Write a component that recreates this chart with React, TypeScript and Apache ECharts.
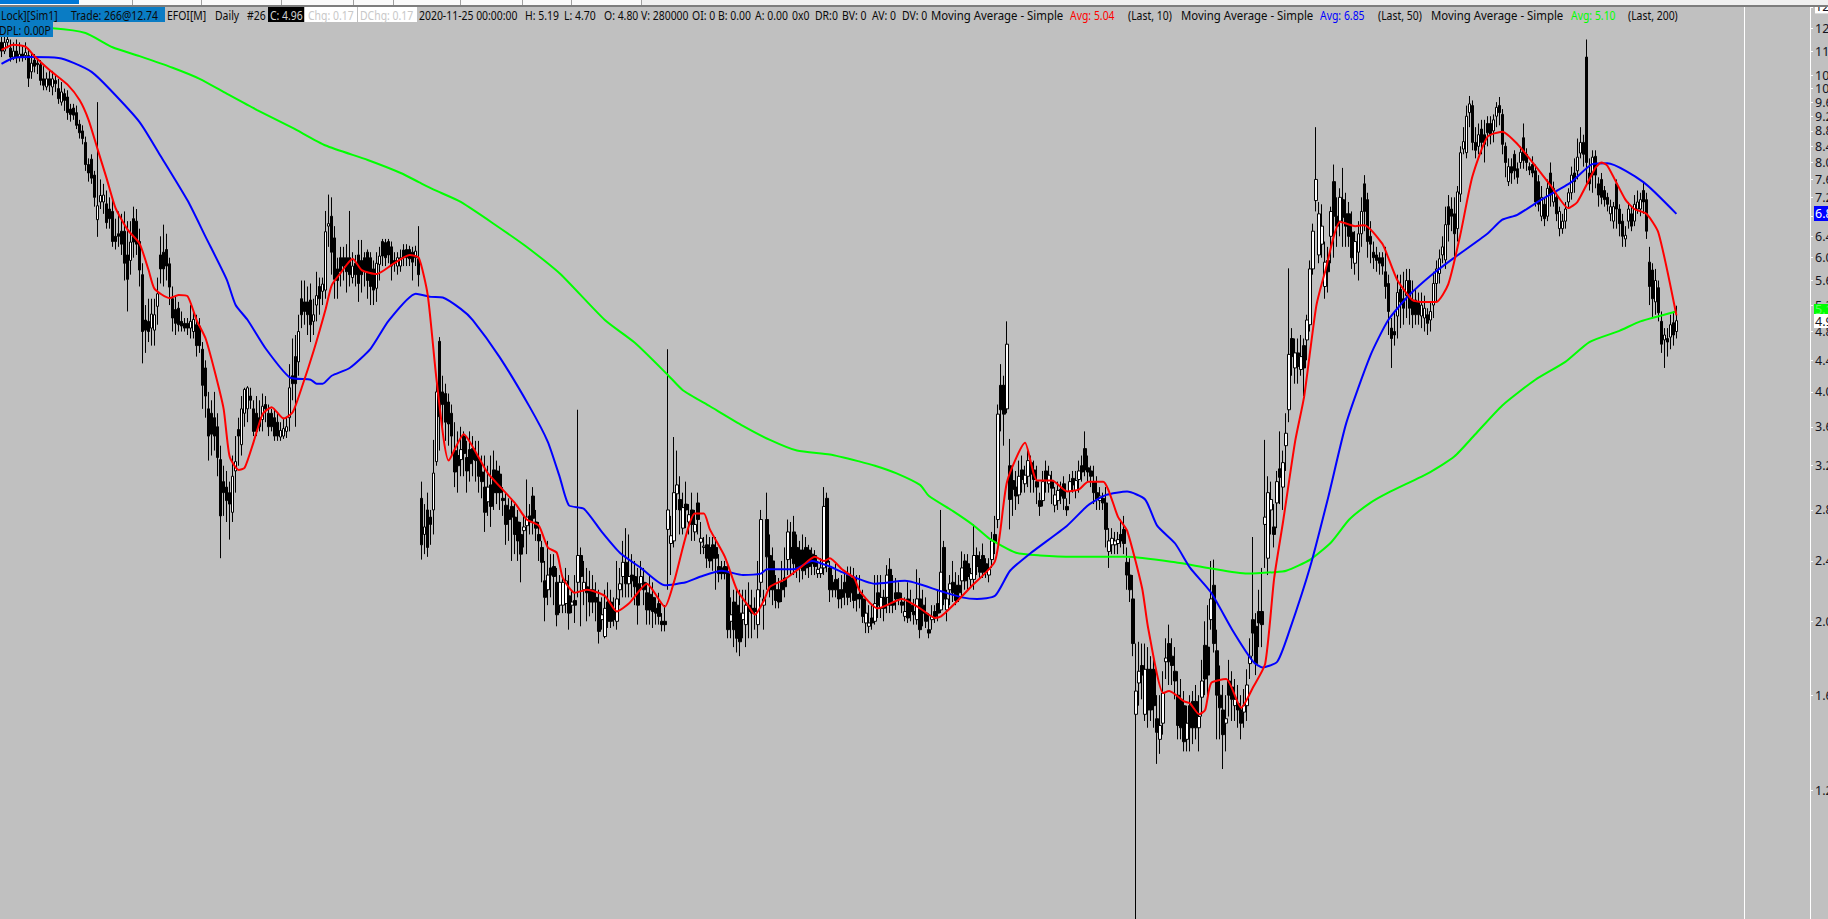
import React, { useEffect, useRef } from "react";
import * as echarts from "echarts";

// Candles: [open, close, low, high]
const candles: number[][] = [
[11.5,11.2,11.0,11.8],[11.2,11.5,11.1,11.9],[11.5,11.6,11.3,11.95],[11.3,11.0,10.85,11.6],[11.0,11.2,10.9,11.5],[11.2,11.0,10.8,11.6],[11.0,11.1,10.85,11.5],[11.1,11.0,10.85,11.4],[11.05,11.15,10.9,11.5],[11.05,10.32,10.05,11.3],
[10.52,10.8,10.3,11.1],[10.9,10.7,10.5,11.1],[10.8,10.75,10.45,10.95],[10.75,10.25,10.1,10.9],[10.3,10.1,9.95,10.7],[10.05,10.3,9.95,10.5],[10.3,10.1,9.9,10.55],[10.05,10.3,9.8,10.55],[10.25,10.15,9.9,10.4],[10.0,9.7,9.55,10.3],
[9.6,9.9,9.5,10.2],[9.85,9.65,9.35,10.0],[9.75,9.3,9.1,9.95],[9.4,9.25,9.05,9.55],[9.43,9.23,9.1,9.55],[9.3,8.95,8.85,9.5],[8.98,8.75,8.6,9.1],[8.8,8.6,8.45,8.95],[8.5,7.95,7.8,8.65],[7.95,7.75,7.55,8.1],
[8.08,7.63,7.5,8.2],[7.7,7.2,7.0,7.8],[6.73,7.02,6.39,9.6],[7.1,7.24,6.95,7.6],[7.1,7.25,6.85,7.5],[7.06,6.67,6.55,7.35],[6.95,6.75,6.55,7.2],[6.9,6.3,6.2,7.15],[6.4,6.3,6.15,6.75],[6.45,6.4,6.2,6.9],
[6.5,6.25,6.05,6.85],[6.5,5.9,5.6,6.9],[6.05,5.62,5.1,6.7],[5.95,6.29,5.7,6.7],[6.75,6.29,6.0,7.0],[6.7,6.25,6.05,6.95],[6.3,5.78,5.5,6.55],[5.7,4.8,4.36,5.9],[4.97,4.82,4.5,5.2],[4.95,4.8,4.65,5.3],
[4.85,5.06,4.6,5.3],[4.82,5.05,4.6,5.3],[5.18,5.38,4.9,5.65],[6.05,5.8,5.55,6.4],[6.1,5.8,5.5,6.63],[6.15,5.85,5.6,6.45],[5.89,5.49,5.2,6.0],[5.3,5.0,4.8,5.5],[5.13,4.92,4.75,5.35],[5.15,4.9,4.8,5.25],
[4.95,4.88,4.8,5.1],[4.92,4.85,4.8,5.0],[4.92,4.85,4.75,5.0],[4.85,4.95,4.7,5.2],[4.8,4.98,4.7,5.12],[4.9,4.6,4.45,5.05],[4.88,4.6,4.5,5.0],[4.55,4.08,3.8,4.65],[4.3,3.95,3.7,4.4],[3.8,3.5,3.25,4.0],
[3.75,3.52,3.3,3.9],[3.7,3.5,3.35,4.0],[3.6,3.28,3.1,3.75],[3.26,2.75,2.42,3.4],[3.05,2.95,2.75,3.2],[3.0,2.88,2.7,3.15],[2.95,2.85,2.56,3.05],[2.78,3.1,2.7,3.3],[3.15,3.24,2.95,3.5],[3.57,3.5,3.2,3.7],
[3.41,3.8,3.3,3.95],[3.75,4.03,3.6,4.05],[3.8,4.05,3.65,4.07],[3.95,3.9,3.8,4.05],[3.8,3.55,3.5,3.9],[3.75,3.55,3.5,3.95],[3.7,3.6,3.55,3.9],[3.68,3.83,3.55,3.98],[3.85,3.8,3.65,3.95],[3.75,3.6,3.5,3.85],
[3.75,3.6,3.55,3.8],[3.7,3.5,3.45,3.8],[3.65,3.5,3.45,3.75],[3.49,3.56,3.45,3.65],[3.5,3.58,3.47,3.7],[3.55,3.6,3.48,3.7],[3.7,4.05,3.55,4.35],[4.2,4.1,3.9,4.7],[4.45,4.1,3.6,4.75],[4.38,4.8,4.2,5.05],
[5.3,5.05,4.85,5.6],[5.25,5.1,4.9,5.6],[5.25,5.05,4.75,5.5],[5.28,4.9,4.65,5.55],[4.95,5.05,4.75,5.3],[5.2,5.35,4.95,5.75],[5.5,5.3,5.05,5.65],[5.42,5.54,5.2,5.65],[5.44,6.49,5.3,6.91],[6.6,6.65,6.2,7.26],
[6.8,6.1,5.7,7.2],[6.37,5.62,5.3,6.6],[5.8,5.6,5.3,6.0],[6.0,5.75,5.5,6.2],[6.0,5.85,5.6,6.2],[6.0,5.75,5.4,6.25],[6.0,5.7,5.5,6.91],[5.65,5.85,5.55,6.1],[5.9,5.7,5.5,6.05],[6.05,5.55,5.25,6.33],
[5.95,5.7,5.4,6.33],[6.0,5.75,5.5,6.1],[6.1,5.6,5.3,6.15],[6.0,5.5,5.2,6.1],[5.8,5.44,5.2,5.95],[5.47,5.9,5.25,6.1],[5.88,6.03,5.6,6.2],[6.3,6.03,5.85,6.35],[6.28,6.0,5.85,6.35],[6.3,6.05,5.9,6.35],
[6.2,5.85,5.6,6.3],[5.95,5.9,5.75,6.1],[5.85,6.0,5.7,6.1],[5.85,6.0,5.75,6.15],[6.14,6.0,5.85,6.25],[6.15,6.0,5.85,6.25],[6.15,5.98,5.85,6.22],[6.1,5.92,5.6,6.2],[6.0,6.12,5.85,6.22],[5.98,5.7,5.5,6.6],
[2.9,2.52,2.41,3.05],[2.6,2.66,2.45,2.85],[2.8,2.5,2.43,2.95],[2.74,2.68,2.52,2.8],[2.8,3.13,2.6,3.46],[3.24,4.0,3.2,4.1],[4.66,3.71,3.35,4.72],[4.0,3.85,3.6,4.2],[3.98,3.65,3.45,4.1],[3.88,3.63,3.4,3.98],
[3.75,3.5,3.3,3.85],[3.35,3.14,3.0,3.65],[3.3,3.2,2.95,3.55],[3.26,3.36,3.1,3.6],[3.5,3.32,3.1,3.55],[3.28,3.15,2.95,3.45],[3.36,3.22,3.05,3.55],[3.37,3.26,3.1,3.5],[3.3,3.25,3.05,3.45],[3.25,3.1,2.95,3.45],
[3.14,3.05,2.9,3.3],[3.0,2.78,2.62,3.3],[2.87,3.0,2.75,3.2],[3.02,2.83,2.66,3.3],[3.16,2.95,2.8,3.35],[3.15,2.95,2.85,3.25],[3.12,2.95,2.8,3.2],[2.9,2.88,2.75,3.0],[2.84,2.68,2.52,2.95],[2.8,2.72,2.55,2.9],
[2.83,2.74,2.4,2.9],[2.74,2.6,2.45,2.85],[2.7,2.55,2.4,2.8],[2.6,2.45,2.25,2.7],[2.63,2.66,2.5,2.75],[2.67,2.74,2.45,3.07],[2.75,2.7,2.6,2.85],[2.92,2.73,2.6,3.0],[2.7,2.65,2.55,2.8],[2.6,2.55,2.4,2.7],
[2.5,2.39,2.25,2.55],[2.26,2.15,2.0,2.4],[2.2,2.3,2.1,2.55],[2.35,2.3,2.15,2.45],[2.36,2.29,2.1,2.45],[2.25,2.04,1.97,2.35],[2.1,2.25,2.05,2.3],[2.1,2.25,2.05,2.3],[2.11,2.26,2.05,2.35],[2.16,2.05,1.95,2.3],
[2.1,2.12,2.05,2.2],[2.13,2.1,1.99,2.3],[2.25,2.44,2.15,3.79],[2.44,2.29,1.97,2.5],[2.2,2.25,2.1,2.4],[2.22,2.18,2.0,2.35],[2.2,2.12,2.03,2.33],[2.2,2.12,2.05,2.3],[2.15,2.12,2.0,2.25],[2.12,1.94,1.87,2.2],
[2.01,2.04,1.95,2.15],[1.91,2.08,1.9,2.2],[2.12,2.0,1.96,2.25],[2.12,2.0,1.96,2.2],[2.06,2.01,1.97,2.15],[2.0,2.14,1.95,2.4],[2.2,2.24,2.1,2.35],[2.29,2.39,2.15,2.55],[2.39,2.24,2.15,2.65],[2.24,2.29,2.15,2.6],
[2.3,2.26,2.15,2.45],[2.29,2.22,2.1,2.4],[2.24,2.1,1.98,2.35],[2.24,2.29,2.2,2.4],[2.25,2.2,2.1,2.35],[2.18,2.07,1.98,2.25],[2.17,2.07,1.98,2.3],[2.15,2.06,1.96,2.25],[2.08,2.05,1.98,2.15],[2.11,2.03,1.98,2.18],
[2.0,1.98,1.94,2.05],[2.0,1.98,1.94,2.1],[2.64,2.8,2.2,4.55],[2.53,2.59,2.3,2.75],[2.55,2.95,2.5,3.49],[2.94,3.02,2.8,3.35],[2.89,2.8,2.6,3.1],[2.65,2.82,2.6,2.95],[2.85,2.8,2.65,3.05],[2.7,2.76,2.6,2.85],
[2.8,2.68,2.55,2.95],[2.62,2.68,2.55,2.8],[2.86,2.72,2.6,2.95],[2.54,2.57,2.45,2.7],[2.5,2.51,2.45,2.58],[2.52,2.42,2.35,2.6],[2.5,2.4,2.35,2.58],[2.52,2.42,2.33,2.58],[2.5,2.42,2.2,2.58],[2.36,2.31,2.25,2.45],
[2.35,2.31,2.27,2.4],[2.36,2.31,2.27,2.4],[2.31,1.95,1.9,2.38],[2.0,2.04,1.9,2.15],[2.12,1.95,1.85,2.2],[2.1,1.9,1.82,2.2],[2.05,1.88,1.8,2.2],[2.01,2.05,1.9,2.2],[1.98,2.1,1.85,2.2],[2.1,2.06,1.9,2.25],
[2.08,2.05,1.9,2.2],[2.08,2.06,1.95,2.15],[1.98,2.2,1.9,2.4],[2.25,2.72,2.15,2.8],[2.1,2.14,1.95,2.2],[2.72,2.43,2.2,2.95],[2.44,2.2,2.15,2.6],[2.4,2.2,2.1,2.5],[2.2,2.13,2.08,2.3],[2.2,2.12,2.08,2.28],
[2.25,2.2,2.12,2.4],[2.28,2.22,2.15,2.5],[2.41,2.62,2.3,2.72],[2.5,2.42,2.3,2.7],[2.62,2.38,2.3,2.75],[2.5,2.34,2.28,2.6],[2.48,2.36,2.25,2.55],[2.48,2.33,2.27,2.6],[2.5,2.35,2.3,2.58],[2.48,2.36,2.28,2.52],
[2.45,2.38,2.3,2.5],[2.44,2.36,2.3,2.48],[2.31,2.34,2.28,2.4],[2.31,2.35,2.28,2.42],[2.35,2.83,2.3,3.0],[2.9,2.39,2.32,2.95],[2.35,2.2,2.12,2.4],[2.25,2.2,2.15,2.3],[2.27,2.2,2.15,2.38],[2.2,2.14,2.08,2.28],
[2.2,2.15,2.08,2.3],[2.25,2.18,2.1,2.32],[2.3,2.15,2.1,2.36],[2.28,2.18,2.12,2.36],[2.28,2.13,2.08,2.35],[2.17,2.14,2.06,2.3],[2.17,2.14,2.08,2.3],[2.14,2.03,1.99,2.2],[1.99,2.05,1.93,2.15],[1.97,1.99,1.93,2.1],
[2.02,1.99,1.95,2.1],[2.0,2.11,1.98,2.3],[2.18,2.1,2.02,2.3],[2.08,2.15,2.02,2.3],[2.15,2.08,2.0,2.2],[2.15,2.3,2.05,2.37],[2.34,2.1,2.05,2.42],[2.12,2.1,2.05,2.3],[2.18,2.14,2.07,2.28],[2.18,2.14,2.1,2.25],
[2.12,2.1,2.05,2.18],[2.03,2.06,2.0,2.15],[2.14,2.02,1.99,2.25],[2.1,2.06,2.0,2.2],[2.06,2.04,1.98,2.14],[2.01,2.14,1.98,2.34],[2.14,1.95,1.9,2.28],[2.1,2.05,1.97,2.2],[2.05,2.0,1.96,2.15],[1.95,1.93,1.9,2.05],
[2.01,2.03,1.95,2.1],[2.06,2.03,1.99,2.1],[2.11,2.05,2.0,2.2],[2.07,2.32,2.05,2.8],[2.5,2.14,2.1,2.55],[2.07,2.14,2.0,2.2],[2.2,2.24,2.1,2.3],[2.25,2.18,2.12,2.4],[2.23,2.13,2.1,2.32],[2.23,2.18,2.12,2.3],
[2.26,2.35,2.15,2.47],[2.4,2.26,2.2,2.45],[2.38,2.29,2.2,2.45],[2.27,2.31,2.22,2.35],[2.27,2.44,2.2,2.68],[2.44,2.36,2.3,2.5],[2.41,2.32,2.28,2.47],[2.44,2.32,2.28,2.53],[2.38,2.32,2.28,2.42],[2.3,2.34,2.25,2.42],
[2.41,2.55,2.35,2.62],[2.6,2.54,2.45,2.75],[2.72,3.74,2.65,3.85],[4.08,3.79,3.55,4.35],[4.08,3.74,3.4,4.2],[3.8,4.62,3.75,4.95],[3.2,2.89,2.64,3.47],[3.06,2.98,2.75,3.2],[3.0,2.92,2.8,3.15],[2.93,3.1,2.85,3.25],
[3.16,3.07,2.95,3.3],[3.03,3.11,2.95,3.2],[3.1,3.25,3.0,3.35],[3.23,3.12,2.95,3.3],[3.16,3.07,2.95,3.25],[3.05,3.0,2.85,3.2],[2.88,2.83,2.75,2.95],[2.88,3.05,2.83,3.15],[3.15,3.07,2.95,3.25],[3.03,3.11,2.95,3.2],
[3.05,2.99,2.85,3.15],[2.84,2.93,2.78,3.0],[2.88,2.97,2.8,3.05],[2.98,2.92,2.85,3.05],[3.03,2.9,2.8,3.1],[2.83,2.8,2.75,2.9],[2.96,3.05,2.85,3.12],[3.08,3.02,2.95,3.15],[2.97,3.06,2.9,3.15],[3.07,3.15,2.95,3.25],
[3.2,3.14,3.05,3.3],[3.37,3.16,3.1,3.55],[3.18,3.14,3.05,3.3],[3.15,3.1,3.0,3.2],[3.05,2.95,2.85,3.2],[2.95,2.89,2.8,3.1],[2.88,2.92,2.8,3.0],[2.9,2.86,2.8,2.95],[2.86,2.64,2.5,3.0],[2.47,2.55,2.35,2.65],
[2.52,2.57,2.45,2.65],[2.52,2.55,2.45,2.62],[2.53,2.56,2.45,2.62],[2.6,2.55,2.5,2.72],[2.64,2.53,2.45,2.75],[2.39,2.3,2.2,2.5],[2.3,2.2,2.12,2.42],[2.14,1.87,1.8,2.3],[1.51,1.62,0.81,1.87],[1.66,1.72,1.55,1.88],
[1.75,1.7,1.58,1.87],[1.51,1.73,1.48,1.87],[1.73,1.53,1.45,1.85],[1.73,1.53,1.48,1.8],[1.73,1.55,1.45,1.78],[1.49,1.43,1.3,1.6],[1.4,1.46,1.34,1.6],[1.47,1.61,1.42,1.72],[1.77,1.79,1.68,1.9],[1.87,1.77,1.65,1.98],
[1.8,1.75,1.65,1.9],[1.72,1.67,1.58,1.85],[1.6,1.46,1.4,1.72],[1.58,1.45,1.4,1.68],[1.55,1.39,1.35,1.62],[1.4,1.47,1.35,1.55],[1.55,1.45,1.35,1.6],[1.57,1.45,1.38,1.62],[1.57,1.45,1.4,1.65],[1.45,1.5,1.35,1.6],
[1.59,1.67,1.5,1.78],[1.86,1.68,1.6,2.0],[1.85,1.7,1.6,2.1],[2.01,2.14,1.95,2.4],[2.23,1.87,1.82,2.41],[1.83,1.6,1.4,1.95],[1.6,1.54,1.4,1.75],[1.53,1.42,1.28,1.65],[1.47,1.49,1.35,1.6],[1.67,1.6,1.5,1.78],
[1.64,1.58,1.48,1.72],[1.55,1.58,1.48,1.68],[1.56,1.53,1.45,1.65],[1.53,1.47,1.4,1.6],[1.52,1.55,1.45,1.63],[1.55,1.65,1.48,1.73],[1.76,1.8,1.68,1.9],[2.01,1.93,1.8,2.58],[1.97,1.76,1.7,2.05],[2.06,1.99,1.85,2.2],
[2.06,1.98,1.85,2.35],[2.68,2.74,2.35,3.46],[2.42,2.95,2.3,3.1],[2.8,2.89,2.6,3.05],[2.66,2.6,2.5,2.85],[2.86,3.05,2.65,3.15],[3.17,3.09,2.85,3.55],[3.0,3.23,2.8,3.35],[3.4,3.53,3.15,3.75],[3.79,4.48,3.65,5.81],
[4.7,4.45,4.2,4.85],[4.3,4.5,4.1,4.7],[4.5,4.32,4.1,4.7],[4.28,4.45,4.2,4.75],[4.6,4.3,3.95,4.7],[4.68,4.97,4.4,5.05],[4.9,5.8,4.8,5.95],[5.8,6.5,5.7,6.65],[7.13,7.6,6.9,8.9],[6.05,6.85,5.9,7.1],
[6.25,6.6,6.0,7.05],[5.5,5.92,5.3,6.3],[5.95,5.75,5.4,6.2],[6.4,6.9,5.9,7.0],[7.55,6.8,6.0,7.95],[6.8,6.6,6.2,7.2],[6.7,7.2,6.4,7.4],[7.15,6.78,6.2,7.87],[6.85,6.6,6.2,7.3],[6.85,6.4,6.2,7.1],
[6.48,6.0,5.8,6.9],[5.9,6.3,5.7,6.5],[6.1,6.45,5.6,6.7],[6.45,6.9,6.2,7.2],[7.5,6.9,6.5,7.7],[7.15,6.3,6.0,7.3],[6.4,6.25,5.9,6.7],[6.1,6.0,5.8,6.3],[6.05,5.95,5.75,6.2],[6.0,5.9,5.7,6.1],
[6.0,5.85,5.7,6.1],[5.75,5.5,5.3,6.2],[5.55,5.1,4.75,5.7],[4.85,4.7,4.3,5.0],[4.8,4.75,4.6,5.1],[5.03,5.4,4.7,5.7],[5.45,5.25,4.85,5.7],[5.3,5.15,4.9,5.75],[5.35,5.6,5.0,5.8],[5.6,5.15,4.9,5.8],
[5.28,5.05,4.85,5.6],[5.28,5.05,4.9,5.45],[5.25,5.05,4.9,5.4],[5.03,5.2,4.85,5.4],[5.0,5.15,4.8,5.35],[5.05,4.92,4.75,5.15],[4.97,5.1,4.8,5.25],[5.2,5.55,5.0,5.75],[5.55,5.8,5.25,5.95],[5.72,5.98,5.55,6.15],
[6.05,6.2,5.9,6.4],[5.96,6.63,5.8,7.0],[7.0,6.63,6.3,7.25],[6.95,6.8,6.5,7.2],[6.85,6.45,6.0,7.2],[6.55,7.32,6.3,7.45],[7.27,8.24,7.1,8.4],[8.33,8.52,8.2,8.9],[8.24,9.2,8.1,9.5],[9.3,9.55,8.9,9.78],
[9.5,8.5,8.3,9.65],[8.5,8.3,8.1,8.9],[8.4,8.7,8.2,9.0],[8.85,8.5,8.2,9.1],[8.7,8.45,8.0,9.1],[9.0,8.75,8.4,9.2],[9.0,8.7,8.45,9.2],[8.8,9.1,8.5,9.25],[9.2,9.45,8.9,9.6],[9.5,9.3,8.95,9.75],
[9.25,8.45,8.2,9.4],[8.4,8.0,7.65,8.5],[7.55,7.9,7.45,8.1],[7.9,7.75,7.5,8.1],[8.2,7.8,7.6,8.3],[7.85,7.65,7.5,8.0],[8.0,8.25,7.85,8.4],[8.62,8.05,7.85,9.0],[8.2,8.0,7.8,8.35],[7.9,7.82,7.7,8.0],
[7.95,7.75,7.65,8.15],[7.8,7.1,7.0,7.95],[7.55,7.05,6.9,7.7],[6.8,7.2,6.7,7.45],[7.05,6.75,6.6,7.2],[6.8,7.4,6.7,7.6],[7.75,7.25,7.0,8.0],[7.1,7.4,7.0,7.55],[7.2,6.85,6.7,7.3],[6.55,6.9,6.4,7.0],
[6.55,6.7,6.45,6.85],[6.7,6.95,6.55,7.1],[7.1,7.3,6.95,7.4],[7.3,7.7,7.15,7.9],[7.75,7.55,7.3,8.1],[7.8,8.13,7.6,8.6],[8.23,8.5,8.1,8.9],[8.5,8.2,7.9,8.7],[11.0,8.0,7.5,11.6],[7.75,7.5,7.35,8.1],
[7.7,8.13,7.3,8.3],[8.15,7.7,7.4,8.3],[7.5,7.25,7.0,7.65],[7.6,7.2,7.05,7.75],[7.35,7.15,7.0,7.45],[7.2,7.05,6.9,7.3],[6.85,7.0,6.7,7.15],[6.7,7.0,6.55,7.1],[7.5,6.95,6.55,7.6],[6.95,6.65,6.4,7.05],
[6.7,6.4,6.2,6.85],[6.35,6.42,6.2,6.6],[6.7,6.95,6.55,7.1],[6.85,6.6,6.5,7.0],[6.7,7.05,6.6,7.25],[6.95,7.1,6.85,7.35],[6.95,7.15,6.8,7.3],[7.35,7.1,6.85,7.55],[7.15,6.5,6.35,7.3],
[5.92,5.5,5.2,6.2],[5.78,5.3,5.0,5.9],[5.25,5.6,5.05,5.8],[5.48,5.08,4.95,5.6],[4.95,4.62,4.5,5.1],[4.68,4.75,4.3,4.85],[4.7,4.65,4.45,4.85],[4.72,4.9,4.55,5.05],[4.93,4.75,4.6,5.1],[4.8,4.96,4.7,5.19],
];

// Moving averages, read at [bar index, price]
const ma10: number[][] = [[0,11.24],[4,11.42],[8,11.35],[11,11.03],[16,10.58],[22,10.12],[26,9.66],[29,9.1],[32,8.33],[35,7.63],[38,6.97],[42,6.53],[46,6.26],[49,5.78],[51,5.46],[56,5.31],[59,5.36],[62,5.34],[65,4.97],[68,4.7],[71,4.26],[74,3.8],[76,3.29],[79,3.16],[81,3.18],[84,3.44],[87,3.74],[90,3.82],[94,3.69],[97,3.76],[100,4.05],[104,4.53],[108,5.14],[110,5.52],[113,5.73],[117,5.98],[120,5.78],[125,5.71],[130,5.87],[136,6.05],[139,6.0],[142,5.36],[145,4.13],[149,3.25],[154,3.52],[159,3.28],[162,3.13],[171,2.86],[175,2.72],[179,2.67],[182,2.5],[185,2.46],[187,2.28],[191,2.18],[195,2.2],[201,2.16],[205,2.06],[209,2.11],[215,2.24],[221,2.09],[224,2.25],[231,2.77],[234,2.77],[236,2.64],[241,2.43],[245,2.2],[249,2.09],[251,2.04],[254,2.13],[256,2.22],[261,2.27],[266,2.35],[271,2.43],[274,2.4],[276,2.42],[280,2.34],[284,2.28],[286,2.19],[292,2.08],[300,2.14],[306,2.08],[311,2.02],[313,2.03],[316,2.08],[323,2.22],[331,2.4],[335,3.05],[341,3.43],[345,3.06],[350,3.06],[355,2.96],[359,2.98],[362,3.05],[367,3.05],[372,2.74],[375,2.63],[380,2.21],[382,1.96],[387,1.61],[389,1.62],[394,1.57],[396,1.56],[399,1.51],[401,1.53],[403,1.66],[408,1.68],[413,1.54],[417,1.64],[421,1.76],[424,2.28],[427,2.71],[431,3.45],[434,3.95],[438,5.18],[441,5.76],[446,6.69],[451,6.6],[454,6.62],[460,6.26],[462,6.0],[465,5.61],[470,5.28],[473,5.25],[478,5.25],[482,5.54],[486,6.43],[490,7.66],[495,8.64],[500,8.78],[505,8.46],[511,7.92],[516,7.47],[522,6.97],[525,7.1],[531,7.87],[533,8.0],[535,7.92],[541,7.15],[544,6.95],[548,6.85],[552,6.47],[558,5.04]];
const ma50: number[][] = [[0,10.78],[4,10.97],[10,11.0],[19,10.97],[24,10.81],[30,10.52],[36,9.99],[46,9.04],[53,8.16],[62,7.13],[68,6.39],[75,5.62],[78,5.2],[82,4.97],[88,4.56],[96,4.18],[103,4.15],[105,4.1],[107,4.1],[110,4.2],[116,4.3],[123,4.56],[129,4.96],[138,5.38],[143,5.33],[147,5.32],[153,5.14],[157,4.97],[166,4.44],[176,3.82],[182,3.44],[186,3.09],[189,2.84],[194,2.81],[200,2.62],[206,2.46],[213,2.35],[221,2.23],[228,2.25],[233,2.29],[240,2.33],[247,2.3],[253,2.31],[255,2.34],[264,2.34],[270,2.4],[276,2.36],[280,2.32],[291,2.24],[301,2.26],[313,2.19],[320,2.15],[325,2.14],[331,2.16],[336,2.33],[343,2.46],[355,2.67],[362,2.84],[368,2.93],[375,2.96],[381,2.89],[385,2.67],[391,2.53],[396,2.35],[403,2.18],[410,1.95],[417,1.77],[420,1.74],[425,1.77],[429,1.94],[436,2.36],[442,2.91],[448,3.64],[456,4.46],[462,4.97],[469,5.36],[477,5.72],[484,6.0],[495,6.45],[500,6.73],[505,6.83],[513,7.15],[523,7.54],[530,7.96],[535,7.98],[547,7.54],[558,6.85]];
const ma200: number[][] = [[0,12.07],[17,12.0],[28,11.83],[37,11.33],[46,11.03],[57,10.65],[66,10.3],[75,9.85],[85,9.38],[97,8.88],[108,8.42],[122,8.06],[133,7.75],[139,7.54],[144,7.37],[153,7.1],[174,6.24],[186,5.72],[201,4.97],[211,4.64],[222,4.21],[227,4.02],[236,3.83],[247,3.61],[256,3.46],[265,3.35],[276,3.31],[286,3.24],[291,3.2],[298,3.13],[306,3.02],[309,2.92],[317,2.79],[324,2.67],[329,2.57],[338,2.46],[346,2.44],[357,2.43],[375,2.43],[391,2.39],[402,2.35],[415,2.31],[424,2.32],[428,2.33],[436,2.41],[443,2.54],[449,2.72],[456,2.86],[462,2.95],[476,3.14],[484,3.29],[491,3.52],[500,3.84],[511,4.15],[521,4.38],[529,4.65],[539,4.81],[546,4.95],[558,5.1]];

const tickValues = [12.8,12,11.2,10.4,10,9.6,9.2,8.8,8.4,8,7.6,7.2,6.8,6.4,6,5.6,5.2,4.8,4.4,4,3.6,3.2,2.8,2.4,2,1.6,1.2];
const categories = Array.from({ length: 603 }, (_, i) => `#${i}`);

const AXIS_FONT = "Noto Sans";
const HDR_FONT = "12px 'Noto Sans'";
const hdr = (text: string, x: number, fill = "#0a0a0a", y = 15, scaleX = 0.87) => ({ type: "text", x, y, scaleX, z: 101, silent: true, style: { text, fill, font: HDR_FONT, textVerticalAlign: "middle" } });
const box = (x: number, y: number, width: number, height: number, fill: string, z = 100) => ({ type: "rect", z, silent: true, shape: { x, y, width, height }, style: { fill } });
const tag = (text: string, y: number, h: number, fill: string, color: string) => [
  box(1814, y, 14, h, fill, 102),
  { type: "text", x: 1815, y: y + h / 2, z: 103, silent: true, style: { text, fill: color, font: `12.5px '${AXIS_FONT}'`, textVerticalAlign: "middle" } },
];

const graphicEls = [
  box(0, 0, 1828, 5, "#f0f0f0"),
  box(0, 0, 641, 5, "#fafafa"),
  box(0, 0, 79, 4, "#0078d7"),
  box(132, 0, 1, 5, "#a0a0a0"), box(201, 0, 1, 5, "#a0a0a0"), box(281, 0, 1, 5, "#a0a0a0"), box(353, 0, 1, 5, "#a0a0a0"), box(393, 0, 1, 5, "#a0a0a0"), box(460, 0, 1, 5, "#a0a0a0"), box(522, 0, 1, 5, "#a0a0a0"), box(571, 0, 1, 5, "#a0a0a0"), box(641, 0, 1, 5, "#a0a0a0"),
  box(0, 5, 1828, 2, "#7d7d7d"),
  box(0, 7, 165, 15, "#0a7cc4"),
  box(0, 22, 53, 15, "#0a7cc4"),
  box(268, 7, 36, 15, "#000000"),
  box(305, 7, 52, 15, "#ffffff"),
  box(358, 7, 59, 15, "#ffffff"),
  box(1744, 7, 1, 912, "#ffffff", 1),
  hdr("Lock][Sim1]", 1), hdr("Trade: 266@12.74", 71),
  hdr("EFOI[M]", 167), hdr("Daily", 215), hdr("#26", 247),
  hdr("C: 4.96", 270, "#d0d0d0"), hdr("Chg: 0.17", 308, "#c8c8c8"), hdr("DChg: 0.17", 360, "#c8c8c8"),
  hdr("2020-11-25 00:00:00", 419), hdr("H: 5.19", 525), hdr("L: 4.70", 564), hdr("O: 4.80", 604), hdr("V: 280000", 641),
  hdr("OI: 0", 692), hdr("B: 0.00", 718), hdr("A: 0.00", 755), hdr("0x0", 792), hdr("DR:0", 815), hdr("BV: 0", 842), hdr("AV: 0", 872), hdr("DV: 0", 902),
  hdr("Moving Average - Simple", 931, "#0a0a0a", 15, 0.95), hdr("Avg: 5.04", 1070, "#ff0000"), hdr("(Last, 10)", 1128),
  hdr("Moving Average - Simple", 1181, "#0a0a0a", 15, 0.95), hdr("Avg: 6.85", 1320, "#0000ff"), hdr("(Last, 50)", 1378),
  hdr("Moving Average - Simple", 1431, "#0a0a0a", 15, 0.95), hdr("Avg: 5.10", 1571, "#00ff00"), hdr("(Last, 200)", 1628),
  hdr("DPL: 0.00P", -1, "#0a0a0a", 30),
  ...tag("6.85", 206, 15, "#0000ff", "#ffffff"),
  ...tag("5.10", 304, 11, "#00ff00", "#60ff60"),
  ...tag("4.96", 314, 14, "#ffffff", "#14141e"),
];

export default function App() {
  const ref = useRef<HTMLDivElement>(null);
  useEffect(() => {
    document.body.style.margin = "0";
    document.body.style.overflow = "hidden";
    const chart = echarts.init(ref.current!, null, { renderer: "svg" });
    const lineOf = (name: string, data: number[][], color: string) => ({
      type: "line", name, data, showSymbol: false, silent: true, z: 5, smooth: 0.2,
      lineStyle: { color, width: 2 },
    });
    chart.setOption({
      animation: false,
      backgroundColor: "#c0c0c0",
      grid: { left: 0, right: 18, top: 0, bottom: 0, outerBoundsMode: "none" },
      tooltip: { show: false },
      xAxis: {
        type: "category", data: categories, boundaryGap: true,
        axisLine: { show: false }, axisTick: { show: false }, axisLabel: { show: false }, splitLine: { show: false },
      },
      yAxis: {
        type: "log", position: "right", min: 0.8136, max: 13.07, splitLine: { show: false },
        axisLine: { show: true, lineStyle: { color: "#ffffff", width: 1 } },
        axisTick: { show: true, length: 3, customValues: tickValues, lineStyle: { color: "#ffffff", width: 1 } },
        axisLabel: {
          show: true, customValues: tickValues, margin: 5, color: "#14141e",
          fontFamily: AXIS_FONT, fontSize: 12.5, hideOverlap: false, showMinLabel: true, showMaxLabel: true,
          formatter: (v: number) => (Math.abs(v - 12.8) < 0.005 ? "{whiteTag|12.8}" : v.toFixed(1)),
          rich: {
            whiteTag: { backgroundColor: "#ffffff", color: "#14141e", fontFamily: AXIS_FONT, fontSize: 12.5, padding: [0, 4, 0, 0] },
          },
        },
      },
      series: [
        {
          type: "candlestick", name: "EFOI", data: candles, barWidth: 3, silent: true, z: 2,
          itemStyle: { color: "#ffffff", color0: "#000000", borderColor: "#000000", borderColor0: "#000000", borderWidth: 1 },
        },
        lineOf("MA200", ma200, "#00ff00"),
        lineOf("MA50", ma50, "#0000ff"),
        lineOf("MA10", ma10, "#ff0000"),
      ],
      graphic: { elements: graphicEls },
    });
    return () => chart.dispose();
  }, []);
  return <div ref={ref} style={{ width: 1828, height: 919, overflow: "hidden" }} />;
}
